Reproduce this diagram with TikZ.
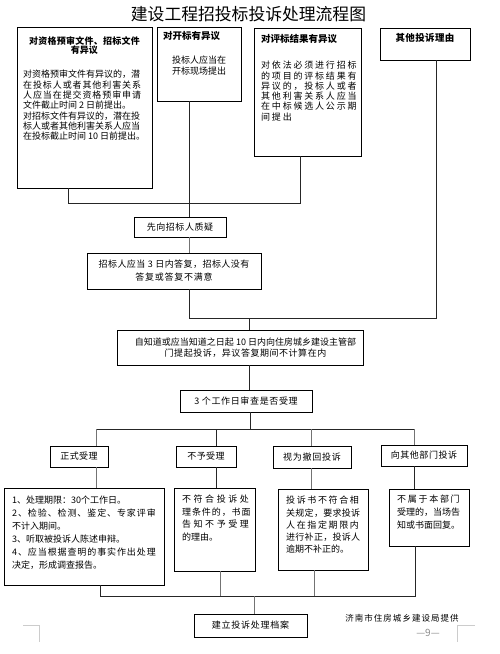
\documentclass[tikz,border=0pt]{standalone}
\usepackage{fontspec}
\setmainfont{Noto Sans CJK SC}
\newcommand\lsp[2]{{\addfontfeature{LetterSpace=#1}#2}}
\begin{document}
\begin{tikzpicture}[x=1pt,y=-1pt,
  box/.style={draw=black, line width=0.8pt, inner sep=0pt, fill=white},
  btxt/.style={inner sep=0pt, font=\fontsize{9}{10.3}\selectfont\bfseries},
  bodytxt/.style={inner sep=0pt, align=left, anchor=north west},
  conn/.style={draw=black!85, line width=0.8pt},
  gconn/.style={draw=black!55, line width=0.9pt},
  corner/.style={draw=black!20, line width=0.8pt}]
\useasboundingbox (0,0) rectangle (500,654);
% connectors
\coordinate (jA) at (68,203); \coordinate (jC) at (300,203);
\coordinate (xB) at (189,150);
\coordinate (jF) at (189,318); \coordinate (jD) at (436,318); \coordinate (jG) at (249,318);
\coordinate (jH) at (250,429); \coordinate (jI) at (96,429); \coordinate (jJ) at (216,429);
\coordinate (jK) at (311,429); \coordinate (jL) at (414,429);
\coordinate (bM) at (100,596); \coordinate (bN) at (220,596); \coordinate (bO) at (314,596);
\coordinate (bP) at (415,596); \coordinate (bQ) at (254,596);
% title
\node[inner sep=0pt, font=\fontsize{16.8}{18}\selectfont] (title) at (248.5,14) {建设工程招投标投诉处理流程图};
% boxes
\node[box, minimum width=135pt, minimum height=161pt] (A) at (84.5,107.5) {};
\node[box, minimum width=84pt, minimum height=74pt] (B) at (199,64) {};
\node[box, minimum width=107pt, minimum height=128pt] (C) at (307.5,92) {};
\node[box, minimum width=90pt, minimum height=32pt] (D) at (425,44) {};
\node[box, minimum width=92pt, minimum height=20pt, font=\fontsize{9}{10}\selectfont] (E) at (180,227) {\lsp{6}{先向招标人质疑}};
\node[box, minimum width=174pt, minimum height=36pt, align=center, font=\fontsize{9}{13}\selectfont] (F) at (174,271) {\lsp{5}{招标人应当 3 日内答复，招标人没有}\\\lsp{8}{答复或答复不满意}};
\node[box, minimum width=246pt, minimum height=35pt] (G) at (240,347.5) {};
\node[box, minimum width=132pt, minimum height=22pt, font=\fontsize{9}{10}\selectfont] (H) at (246,401) {\lsp{7}{3 个工作日审查是否受理}};
\node[box, minimum width=58pt, minimum height=21pt, font=\fontsize{9}{10}\selectfont] (I) at (79,456.5) {\lsp{5}{正式受理}};
\node[box, minimum width=60pt, minimum height=21pt, font=\fontsize{9}{10}\selectfont] (J) at (206,456.5) {\lsp{5}{不予受理}};
\node[box, minimum width=78pt, minimum height=22pt, font=\fontsize{9}{10}\selectfont] (K) at (312,457) {\lsp{8}{视为撤回投诉}};
\node[box, minimum width=86pt, minimum height=21pt, font=\fontsize{9}{10}\selectfont] (L) at (424,455.5) {\lsp{6}{向其他部门投诉}};
\node[box, minimum width=160pt, minimum height=97pt] (M) at (84,536.5) {};
\node[box, minimum width=81pt, minimum height=83pt] (N) at (214.5,529.5) {};
\node[box, minimum width=90pt, minimum height=81pt] (O) at (323,529.5) {};
\node[box, minimum width=80pt, minimum height=57pt] (P) at (429,517.5) {};
\node[box, minimum width=113pt, minimum height=23pt, font=\fontsize{9}{10}\selectfont] (Q) at (250.5,625.5) {\lsp{8}{建立投诉处理档案}};
% texts in boxes
\node[btxt, align=center, font=\fontsize{9}{8.9}\selectfont\bfseries] (Ah) at (84.5,45.5) {\lsp{3}{对资格预审文件、招标文件}\\有异议};
\node[bodytxt, font=\fontsize{9}{10.3}\selectfont] (Ab) at (23,70) {对资格预审文件有异议的，潜\\
\lsp{10}{在投标人或者其他利害关系}\\
\lsp{10}{人应当在提交资格预审申请}\\
文件截止时间 2 日前提出。\\
对招标文件有异议的，潜在投\\
标人或者其他利害关系人应当\\
在投标截止时间 10 日前提出。};
\node[btxt, anchor=west, font=\fontsize{9.5}{10}\selectfont\bfseries] (Bh) at (163,36) {对开标有异议};
\node[inner sep=0pt, align=center, font=\fontsize{9}{11}\selectfont] (Bb) at (199,66) {投标人应当在\\开标现场提出};
\node[btxt, anchor=west, font=\fontsize{9.5}{10}\selectfont\bfseries] (Ch) at (261,39) {对评标结果有异议};
\node[bodytxt, font=\fontsize{9}{10.3}\selectfont] (Cb) at (261,61) {\lsp{20}{对依法必须进行招标}\\
\lsp{20}{的项目的评标结果有}\\
\lsp{20}{异议的，投标人或者}\\
\lsp{20}{其他利害关系人应当}\\
\lsp{20}{在中标候选人公示期}\\
\lsp{20}{间提出}};
\node[btxt, font=\fontsize{9.5}{10}\selectfont\bfseries] (Dh) at (425,38) {\lsp{4}{其他投诉理由}};
\node[inner sep=0pt, align=center, font=\fontsize{9}{11.4}\selectfont] (Gt) at (245.5,347.6) {自知道或应当知道之日起 10 日内向住房城乡建设主管部\\\lsp{6}{门提起投诉，异议答复期间不计算在内}};
\node[bodytxt, font=\fontsize{9}{13}\selectfont] (Mt) at (12,496) {1、处理期限：30个工作日。\\
\lsp{10}{2、检验、检测、鉴定、专家评审}\\
不计入期间。\\
3、听取被投诉人陈述申辩。\\
\lsp{10}{4、应当根据查明的事实作出处理}\\
决定，形成调查报告。};
\node[bodytxt, font=\fontsize{9}{12.5}\selectfont] (Nt) at (182,495) {\lsp{28}{不符合投诉处}\\
\lsp{10}{理条件的，书面}\\
\lsp{28}{告知不予受理}\\
的理由。};
\node[bodytxt, font=\fontsize{9}{12.3}\selectfont] (Ot) at (286,496) {\lsp{18}{投诉书不符合相}\\
\lsp{3}{关规定，要求投诉}\\
\lsp{18}{人在指定期限内}\\
\lsp{3}{进行补正，投诉人}\\
逾期不补正的。};
\node[bodytxt, font=\fontsize{9}{12.7}\selectfont] (Pt) at (397,495) {\lsp{19}{不属于本部门}\\
受理的，当场告\\
知或书面回复。};
% connectors
\draw[conn] (A.south -| jA) -- (jA) -- (jC) -- (C.south -| jC);
\draw[conn] (B.south -| xB) -- (E.north -| xB);
\draw[gconn] (E.south -| xB) -- (F.north -| xB);
\draw[conn] (F.south -| jF) -- (jF) -- (jD) -- (D.south -| jD);
\draw[conn] (jG) -- (G.north -| jG);
\draw[conn] (G.south -| jG) -- (H.north -| jG);
\draw[conn] (H.south -| jH) -- (jH);
\draw[conn] (jI) -- (jL);
\draw[gconn] (jI) -- (I.north -| jI);
\draw[conn] (jJ) -- (J.north -| jJ);
\draw[gconn] (jK) -- (K.north -| jK);
\draw[gconn] (jL) -- (L.north -| jL);
\draw[gconn] (I.south -| jI) -- (M.north -| jI);
\draw[conn] (J.south -| jJ) -- (N.north -| jJ);
\draw[gconn] (K.south -| jK) -- (O.north -| jK);
\draw[conn] (L.south -| jL) -- (P.north -| jL);
\draw[conn] (M.south -| bM) -- (bM) -- (bP) -- (P.south -| bP);
\draw[gconn] (N.south -| bN) -- (bN);
\draw[gconn] (O.south -| bO) -- (bO);
\draw[gconn] (bQ) -- (Q.north -| bQ);
% footer
\node[inner sep=0pt, font=\fontsize{8.5}{9}\selectfont] (foot) at (402,618) {\lsp{12}{济南市住房城乡建设局提供}};
\node[inner sep=0pt, text=black!45, font=\fontsize{10}{10}\selectfont] (pg) at (428,633) {—9—};
\coordinate (cl1) at (23,625); \coordinate (cl2) at (39,625); \coordinate (cl3) at (39,642);
\coordinate (cr1) at (475,625); \coordinate (cr2) at (457,625); \coordinate (cr3) at (457,642);
\draw[corner] (cl1) -- (cl2) -- (cl3);
\draw[corner] (cr1) -- (cr2) -- (cr3);
\end{tikzpicture}
\end{document}
